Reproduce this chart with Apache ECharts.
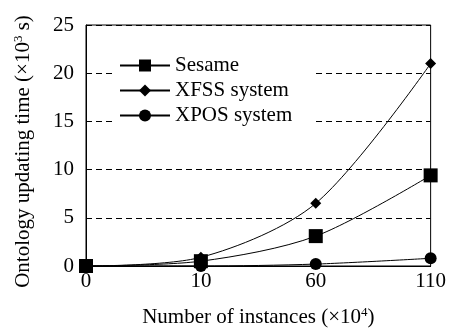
<!DOCTYPE html>
<html>
<head>
<meta charset="utf-8">
<script src="https://cdn.jsdelivr.net/npm/echarts@6/dist/echarts.min.js"></script>
<style>
  html, body { margin: 0; padding: 0; background: #fff; }
  #chart { width: 449px; height: 333px; }
</style>
</head>
<body>
<div id="chart"></div>
<script>
// data
var instances = ['0', '10', '60', '110'];
var sesame = [0, 0.5, 3.1, 9.4];
var xfss = [0, 0.9, 6.5, 21.0];
var xpos = [0, 0, 0.2, 0.8];
var yTicks = [0, 5, 10, 15, 20, 25];

var serif = "'Liberation Serif', 'Times New Roman', 'DejaVu Serif', serif";
var myChart = echarts.init(document.getElementById('chart'));

function mkSeries(name, values, symbol, size) {
  return {
    name: name,
    type: 'line',
    data: values,
    smooth: 0.3,
    symbol: symbol,
    symbolSize: size,
    showAllSymbol: true,
    lineStyle: { color: '#000', width: 1 },
    itemStyle: { color: '#000' },
    z: 3
  };
}

var supStyle = { fontSize: 13, verticalAlign: 'top', padding: [0, 0, 10, 0], fontFamily: serif, color: '#000' };

var option = {
  animation: false,
  textStyle: { fontFamily: serif },
  grid: {
    left: 86, right: 16, top: 25, bottom: 62,
    show: true, borderColor: '#000', borderWidth: 1
  },
  legend: {
    orient: 'vertical',
    left: 112, top: 51,
    itemWidth: 50, itemHeight: 15, itemGap: 4,
    padding: [4, 20, 4, 7],
    backgroundColor: '#fff',
    textStyle: { fontFamily: serif, fontSize: 21, color: '#000' },
    data: ['Sesame', 'XFSS system', 'XPOS system']
  },
  xAxis: {
    type: 'category',
    data: instances,
    boundaryGap: false,
    axisLine: { lineStyle: { color: '#000' } },
    axisTick: { show: false },
    axisLabel: { color: '#000', fontSize: 21, fontFamily: serif, margin: 5 },
    name: 'Number of instances (×10{sup|4})',
    nameLocation: 'middle',
    nameGap: 40,
    nameTextStyle: {
      color: '#000', fontSize: 21, fontFamily: serif,
      rich: { sup: supStyle }
    }
  },
  yAxis: {
    type: 'value',
    min: yTicks[0], max: yTicks[yTicks.length - 1], interval: 5,
    axisLine: { show: true, lineStyle: { color: '#000' } },
    axisTick: { show: false },
    axisLabel: { color: '#000', fontSize: 21, fontFamily: serif, margin: 12 },
    splitLine: { show: true, lineStyle: { color: '#000', type: [6, 4], width: 1 } },
    name: 'Ontology updating time (×10{sup|3} s)',
    nameLocation: 'middle',
    nameGap: 51,
    nameTextStyle: {
      color: '#000', fontSize: 21, fontFamily: serif,
      padding: [0, 12, 0, 0],
      rich: { sup: supStyle }
    }
  },
  series: [
    mkSeries('Sesame', sesame, 'rect', 14),
    mkSeries('XFSS system', xfss, 'diamond', 11),
    mkSeries('XPOS system', xpos, 'circle', 12)
  ]
};

myChart.setOption(option);
</script>
</body>
</html>
